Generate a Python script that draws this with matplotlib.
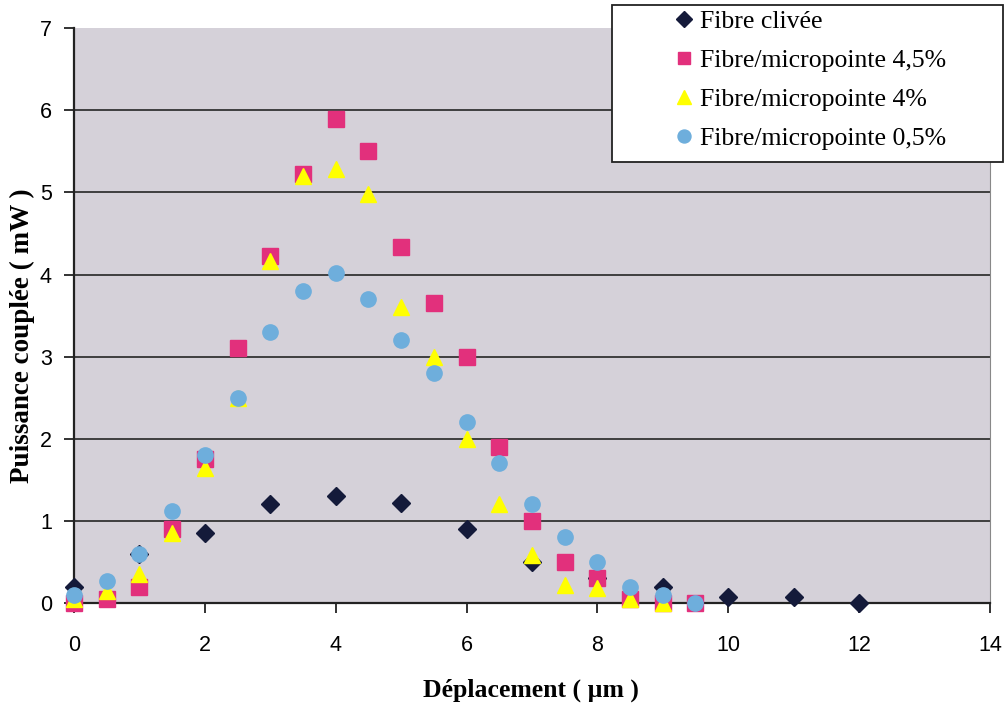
import numpy as np
import matplotlib
matplotlib.use("Agg")
import matplotlib.pyplot as plt
from matplotlib.patches import Rectangle

# Fibre clivée
x_cl = [0, 1, 2, 3, 4, 5, 6, 7, 8, 9, 10, 11, 12]
y_cl = [0.2, 0.6, 0.85, 1.2, 1.3, 1.22, 0.9, 0.5, 0.3, 0.2, 0.07, 0.07, 0.0]

# micropointes (pas de 0.5 um)
x_mp = [0, 0.5, 1, 1.5, 2, 2.5, 3, 3.5, 4, 4.5, 5, 5.5, 6, 6.5, 7, 7.5, 8, 8.5, 9, 9.5]
y_45 = [0.0, 0.05, 0.2, 0.9, 1.75, 3.1, 4.22, 5.22, 5.9, 5.5, 4.33, 3.65, 3.0, 1.9, 1.0, 0.5, 0.3, 0.05, 0.0, 0.0]
y_4 = [0.05, 0.15, 0.35, 0.85, 1.65, 2.5, 4.17, 5.2, 5.28, 4.98, 3.6, 3.0, 2.0, 1.2, 0.58, 0.22, 0.18, 0.05, 0.0]
y_05 = [0.1, 0.27, 0.6, 1.12, 1.8, 2.5, 3.3, 3.8, 4.02, 3.7, 3.2, 2.8, 2.2, 1.7, 1.2, 0.8, 0.5, 0.2, 0.1, 0.0]

labels = ["Fibre clivée", "Fibre/micropointe 4,5%", "Fibre/micropointe 4%", "Fibre/micropointe 0,5%"]

fig = plt.figure(figsize=(10.07, 7.05), dpi=100)
ax = fig.add_axes([0.0735, 0.1447, 0.9095, 0.8153])
ax.set_facecolor("#d5d1d9")

for yv in range(1, 7):
    ax.axhline(yv, color="#333333", lw=1.3, zorder=1)

h1, = ax.plot(x_cl, y_cl, "D", color="#141a3a", ms=9, ls="none", zorder=3, clip_on=False)
h2, = ax.plot(x_mp, y_45, "s", color="#e2307c", ms=11, ls="none", zorder=4, clip_on=False)
h3, = ax.plot(x_mp[:len(y_4)], y_4, "^", color="#ffff00", ms=12, ls="none", zorder=5, clip_on=False)
h4, = ax.plot(x_mp, y_05, "o", color="#6eaedc", ms=11, ls="none", zorder=6, clip_on=False)

ax.set_xlim(0, 14)
ax.set_ylim(0, 7)
ax.set_xticks(range(0, 15, 2))
ax.set_yticks(range(0, 8))
ax.tick_params(axis="both", labelsize=15.5, length=7, width=1.3, color="#222222")
ax.tick_params(axis="x", pad=16)
ax.tick_params(axis="y", pad=9)
for lab in ax.get_xticklabels() + ax.get_yticklabels():
    lab.set_family("Liberation Sans")
for s in ["left", "bottom"]:
    ax.spines[s].set_color("#222222")
    ax.spines[s].set_linewidth(1.6)
ax.spines["top"].set_visible(False)
ax.spines["right"].set_color("#888888")
ax.spines["right"].set_linestyle((0, (2, 1)))

fig.text(531 / 1007, 1 - 690 / 705, "Déplacement ( µm )", family="Liberation Serif",
         fontweight="bold", fontsize=18.5, ha="center", va="center")
fig.text(22 / 1007, 1 - 336 / 705, "Puissance couplée ( mW )", family="Liberation Serif",
         fontweight="bold", fontsize=19.5, ha="center", va="center", rotation=90)

# legend box
fig.patches.append(Rectangle((612 / 1007, 1 - 162 / 705), (1003 - 612) / 1007, (162 - 5) / 705,
                             transform=fig.transFigure, facecolor="white", edgecolor="#222222",
                             lw=1.3, zorder=10))
leg = fig.legend([h1, h2, h3, h4], labels, loc="upper left", bbox_to_anchor=(0.656, 1.004),
                 frameon=False, prop={"family": "Liberation Serif", "size": 18.5},
                 borderpad=0.0, handlelength=0.8, handletextpad=0.25, labelspacing=0.62,
                 markerscale=0.85)
leg.set_zorder(11)

fig.savefig("out.png", dpi=100)
